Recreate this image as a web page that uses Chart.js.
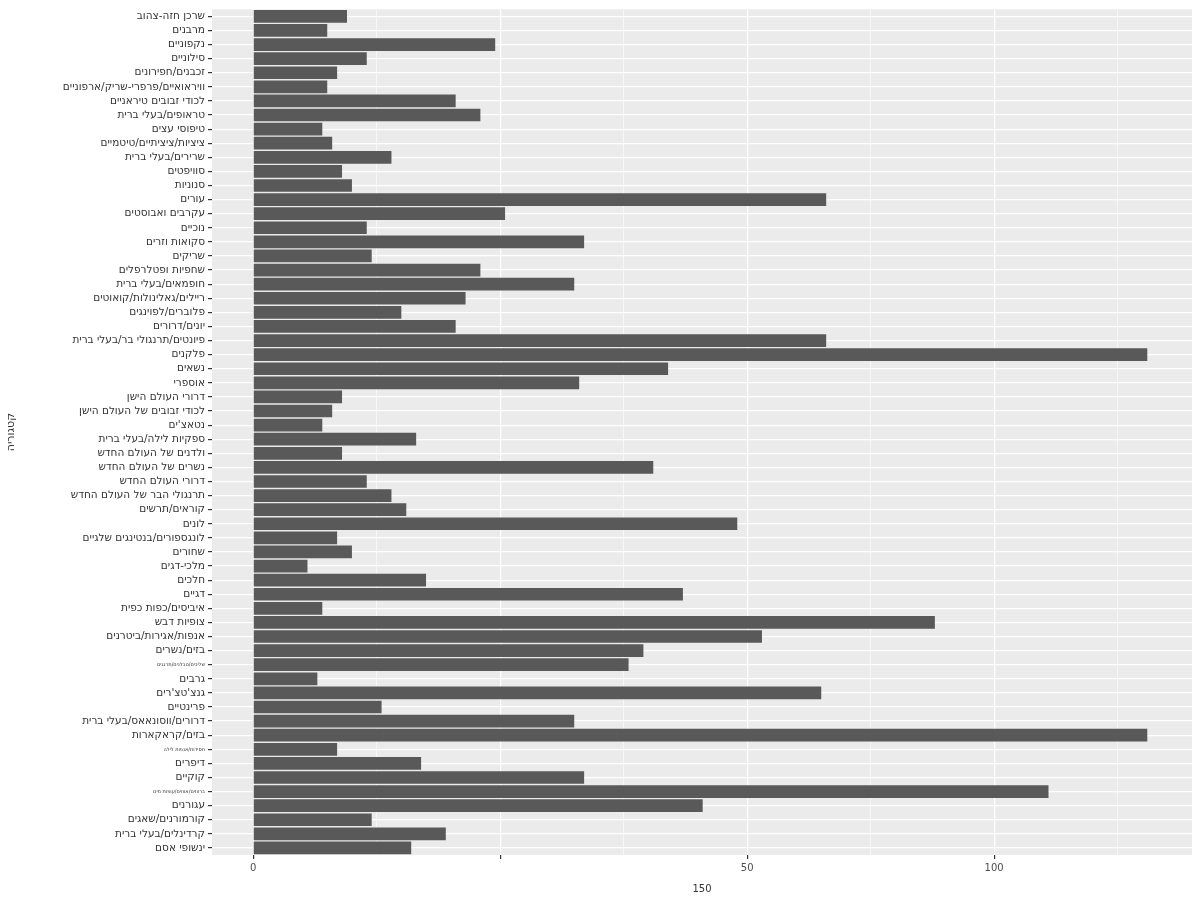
<!DOCTYPE html>
<html lang="he">
<head>
<meta charset="utf-8">
<title>קטגוריה</title>
<script src="https://cdn.jsdelivr.net/npm/chart.js@4/dist/chart.umd.min.js"></script>
<style>
  html, body { margin: 0; padding: 0; background: #fff; }
  #wrap { width: 1200px; height: 900px; position: relative; }
</style>
</head>
<body>
<div id="wrap"><canvas id="chart"></canvas></div>
<script>
// categories, top to bottom as in the picture
const categories = [
  'שרכן חזה-צהוב', 'מרבנים', 'נקפוניים', 'סילוניים', 'זכבנים/חפירונים',
  'וויראואיים/פרפרי-שריק/ארפוניים', 'לכודי זבובים טיראניים', 'טראופים/בעלי ברית', 'טיפוסי עצים', 'ציציות/ציציתיים/טיטמיים',
  'שרירים/בעלי ברית', 'סוויפטים', 'סנוניות', 'עורים', 'עקרבים ואבוסטים',
  'נוכיים', 'סקואות וזרים', 'שריקים', 'שחפיות ופטלרפלים', 'חופמאים/בעלי ברית',
  'ריילים/גאלינולות/קואוטים', 'פלוברים/לפוינגים', 'יונים/דרורים', 'פיונטים/תרנגולי בר/בעלי ברית', 'פלקנים',
  'נשאים', 'אוספרי', 'דרורי העולם הישן', 'לכודי זבובים של העולם הישן', 'נטאצ\'ים',
  'ספקיות לילה/בעלי ברית', 'ולדנים של העולם החדש', 'נשרים של העולם החדש', 'דרורי העולם החדש', 'תרנגולי הבר של העולם החדש',
  'קוראים/תרשים', 'לונים', 'לונגספורים/בנטינגים שלגיים', 'שחורים', 'מלכי-דגים',
  'חלכים', 'דגיים', 'איביסים/כפות כפית', 'צופיות דבש', 'אנפות/אגירות/ביטרנים',
  'בזים/נשרים', 'שליכים/טבלנים/מרגנים', 'גרבים', 'גנצ\'טצ\'רים', 'פרינטיים',
  'דרורים/ווסונאאס/בעלי ברית', 'בזים/קראקארות', 'חסידות/אנפות לילה', 'דיפרים', 'קוקיים',
  'ברווזים/אווזים/עופות מים', 'עגורנים', 'קורמורנים/שאגים', 'קרדינלים/בעלי ברית', 'ינשופי אסם'
];

// counts
const counts = [
  19, 15, 49, 23, 17,
  15, 41, 46, 14, 16,
  28, 18, 20, 116, 51,
  23, 67, 24, 46, 65,
  43, 30, 41, 116, 181,
  84, 66, 18, 16, 14,
  33, 18, 81, 23, 28,
  31, 98, 17, 20, 11,
  35, 87, 14, 138, 103,
  79, 76, 13, 115, 26,
  65, 181, 17, 34, 67,
  161, 91, 24, 39, 32
];

// x axis ticks as printed in the picture
const tickValues = [0, 50, 100, 150];
const tickLabels = ['0', '', '50', '100'];
const minorValues = [25, 75, 125, 175];
const xTitle = '150';
const yTitle = 'קטגוריה';

const tinyRows = [46, 52, 55];

const panelBg = {
  id: 'panelBg',
  beforeDraw(chart) {
    const { ctx, chartArea: a } = chart;
    ctx.save();
    ctx.fillStyle = '#EBEBEB';
    ctx.fillRect(a.left, a.top, a.right - a.left, a.bottom - a.top);
    ctx.restore();
  }
};

const maxVal = Math.max(...counts);

new Chart(document.getElementById('chart'), {
  type: 'bar',
  data: {
    labels: categories,
    datasets: [{
      data: counts,
      backgroundColor: '#595959',
      borderWidth: 0,
      barPercentage: 0.9,
      categoryPercentage: 1.0
    }]
  },
  options: {
    indexAxis: 'y',
    responsive: true,
    maintainAspectRatio: false,
    animation: false,
    layout: { padding: { top: 7, right: 8, left: 5, bottom: 5 } },
    plugins: {
      legend: { display: false },
      tooltip: { enabled: false }
    },
    scales: {
      x: {
        type: 'linear',
        min: -0.046 * maxVal,
        max: 1.05 * maxVal,
        afterBuildTicks(scale) {
          scale.ticks = tickValues.concat(minorValues)
            .sort((a, b) => a - b)
            .map(v => ({ value: v }));
        },
        afterFit(scale) { scale.height = 40; },
        border: { display: false },
        grid: {
          color: '#FFFFFF',
          lineWidth: c => (c.tick && tickValues.includes(c.tick.value)) ? 1.2 : 0.6,
          tickLength: 4,
          tickColor: c => (c.tick && tickValues.includes(c.tick.value)) ? '#333333' : 'rgba(0,0,0,0)'
        },
        ticks: {
          padding: 3,
          color: '#4D4D4D',
          font: { family: 'DejaVu Sans', size: 10 },
          maxRotation: 0,
          autoSkip: false,
          callback: v => {
            const i = tickValues.indexOf(v);
            return i >= 0 ? tickLabels[i] : '';
          }
        },
        title: {
          display: true,
          text: xTitle,
          color: '#333333',
          font: { family: 'DejaVu Sans', size: 10 },
          padding: { top: 2, bottom: 0 }
        }
      },
      y: {
        afterFit(scale) { scale.width = 207; },
        border: { display: false },
        grid: {
          offset: false,
          color: '#FFFFFF',
          lineWidth: 1.2,
          tickLength: 4,
          tickColor: '#333333'
        },
        ticks: {
          padding: 3,
          autoSkip: false,
          color: '#333333',
          font: c => ({ family: 'DejaVu Sans', size: tinyRows.includes(c.index) ? 5 : 10.5 })
        },
        title: {
          display: true,
          text: yTitle,
          color: '#333333',
          font: { family: 'DejaVu Sans', size: 11 },
          padding: { top: 0, bottom: 0 }
        }
      }
    }
  },
  plugins: [panelBg]
});
</script>
</body>
</html>
